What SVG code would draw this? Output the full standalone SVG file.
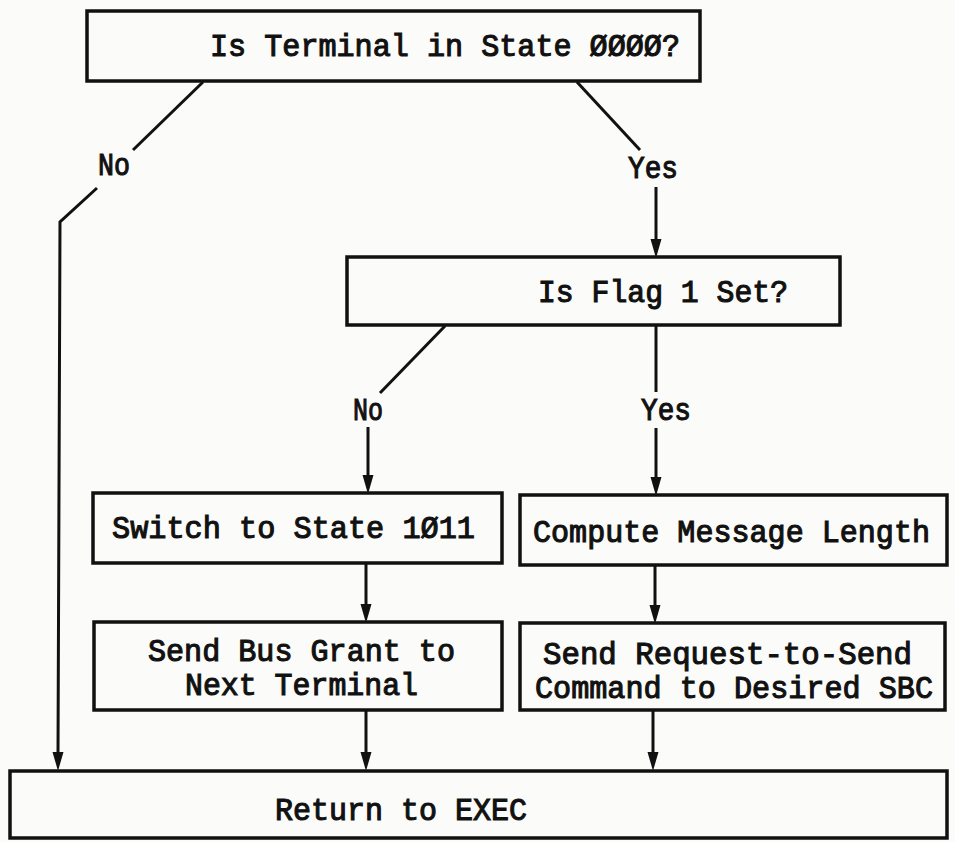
<svg xmlns="http://www.w3.org/2000/svg" width="955" height="842" viewBox="0 0 955 842">
<style>
.box{fill:none;stroke:#111;stroke-width:3.5}
.ln{fill:none;stroke:#111;stroke-width:3}
.ah{fill:#111}
.t{font-family:"Liberation Mono","DejaVu Sans Mono",monospace;font-size:31px;fill:#111;stroke:#111;stroke-width:1.1}
</style>
<rect width="955" height="842" fill="#fbfbf9"/>
<g id="connectors">
<polyline class="ln" points="203,82 133,150"/>
<polyline class="ln" points="97,188 60,222 58,755"/>
<polyline class="ln" points="577,82 640,150"/>
<line class="ln" x1="656" y1="187" x2="656" y2="242"/>
<line class="ln" x1="445" y1="326" x2="380" y2="393"/>
<line class="ln" x1="368" y1="427" x2="368" y2="478"/>
<line class="ln" x1="656" y1="325" x2="656" y2="392"/>
<line class="ln" x1="656" y1="428" x2="656" y2="480"/>
<line class="ln" x1="366" y1="563" x2="366" y2="607"/>
<line class="ln" x1="655" y1="565" x2="655" y2="608"/>
<line class="ln" x1="366" y1="710" x2="366" y2="755"/>
<line class="ln" x1="653" y1="710" x2="653" y2="755"/>
<path class="ah" d="M52.5,752 L63.5,752 L58,771 Z"/>
<path class="ah" d="M650.5,239 L661.5,239 L656,258 Z"/>
<path class="ah" d="M362.5,475 L373.5,475 L368,494 Z"/>
<path class="ah" d="M650.5,477 L661.5,477 L656,496 Z"/>
<path class="ah" d="M360.5,604 L371.5,604 L366,623 Z"/>
<path class="ah" d="M649.5,605 L660.5,605 L655,624 Z"/>
<path class="ah" d="M360.5,752 L371.5,752 L366,771 Z"/>
<path class="ah" d="M647.5,752 L658.5,752 L653,771 Z"/>
<text class="t" x="98" y="175" textLength="32" lengthAdjust="spacingAndGlyphs">No</text>
<text class="t" x="628" y="178" textLength="50" lengthAdjust="spacingAndGlyphs">Yes</text>
<text class="t" x="353" y="420" textLength="30" lengthAdjust="spacingAndGlyphs">No</text>
<text class="t" x="641" y="420" textLength="50" lengthAdjust="spacingAndGlyphs">Yes</text>
</g>
<g id="n1">
<rect class="box" x="87" y="11" width="613" height="70"/>
<text class="t" x="210" y="56" textLength="470" lengthAdjust="spacingAndGlyphs">Is Terminal in State ØØØØ?</text>
</g>
<g id="n2">
<rect class="box" x="347" y="257" width="493" height="68"/>
<text class="t" x="538" y="302" textLength="250" lengthAdjust="spacingAndGlyphs">Is Flag 1 Set?</text>
</g>
<g id="n3">
<rect class="box" x="93" y="493" width="409" height="70"/>
<text class="t" x="112" y="538" textLength="363" lengthAdjust="spacingAndGlyphs">Switch to State 1Ø11</text>
</g>
<g id="n4">
<rect class="box" x="520" y="495" width="427" height="70"/>
<text class="t" x="533" y="542" textLength="397" lengthAdjust="spacingAndGlyphs">Compute Message Length</text>
</g>
<g id="n5">
<rect class="box" x="94" y="622" width="408" height="88"/>
<text class="t" x="148" y="661" textLength="307" lengthAdjust="spacingAndGlyphs">Send Bus Grant to</text>
<text class="t" x="185" y="695" textLength="233" lengthAdjust="spacingAndGlyphs">Next Terminal</text>
</g>
<g id="n6">
<rect class="box" x="520" y="623" width="425" height="87"/>
<text class="t" x="543" y="664" textLength="369" lengthAdjust="spacingAndGlyphs">Send Request-to-Send</text>
<text class="t" x="535" y="698" textLength="398" lengthAdjust="spacingAndGlyphs">Command to Desired SBC</text>
</g>
<g id="n7">
<rect class="box" x="10" y="771" width="937" height="67"/>
<text class="t" x="275" y="820" textLength="252" lengthAdjust="spacingAndGlyphs">Return to EXEC</text>
</g>
</svg>
